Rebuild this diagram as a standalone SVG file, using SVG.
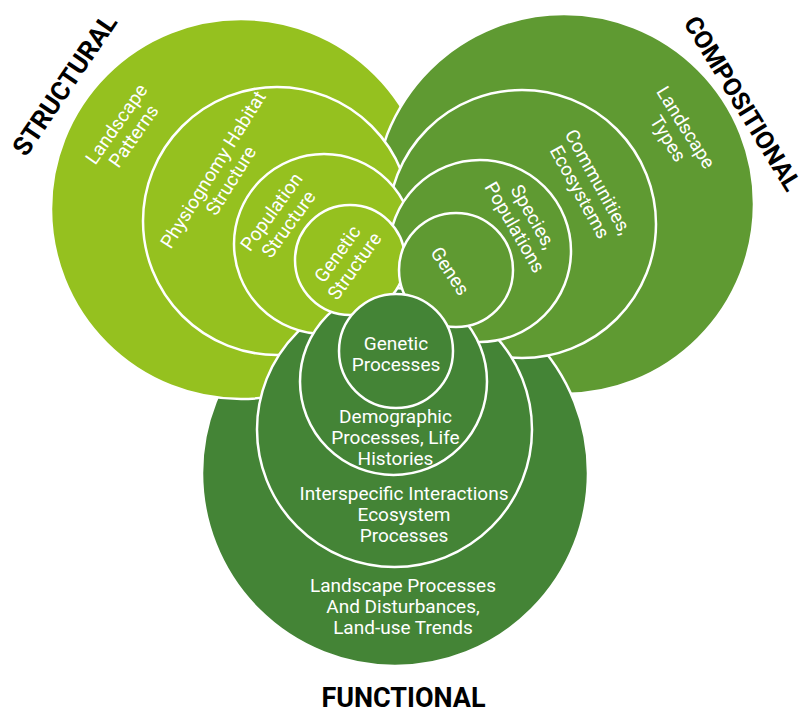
<svg xmlns="http://www.w3.org/2000/svg" width="808" height="713" viewBox="0 0 808 713">
<style>
.c{stroke:#fff;stroke-width:2.5}
.s{fill:#95c11f}
.p{fill:#5f9a32}
.f{fill:#448436}
.l{font-family:Roboto,"Liberation Sans",sans-serif;font-size:19px;fill:#fff;text-anchor:middle}
.t{font-family:Roboto,"Liberation Sans",sans-serif;font-weight:700;font-size:26px;fill:#000;text-anchor:middle}
</style>
<defs>
<circle id="compCircle" cx="564" cy="204" r="190"/>
<clipPath id="lens"><rect x="360" y="0" width="90" height="265"/></clipPath>
</defs>
<rect width="808" height="713" fill="#fff"/>

<!-- level 1 -->
<g id="compositional">
<use href="#compCircle" class="c p"/>
<g transform="translate(677,133) rotate(58)"><text class="l" y="-4">Landscape</text><text class="l" y="17">Types</text></g>
</g>
<g id="functional">
<circle class="c f" cx="395" cy="473" r="193"/>
</g>
<g id="structural">
<circle class="c s" cx="241" cy="209" r="190"/>
<g transform="translate(125,130) rotate(-55)"><text class="l" y="-4">Landscape</text><text class="l" y="17">Patterns</text></g>
</g>
<g id="compositional-overlap">
<use href="#compCircle" class="c p" clip-path="url(#lens)"/>
</g>

<!-- level 2 -->
<g id="physiognomy">
<circle class="c s" cx="277" cy="221" r="134"/>
<g transform="translate(222,175) rotate(-58)"><text class="l" y="-4">Physiognomy Habitat</text><text class="l" y="17">Structure</text></g>
</g>
<g id="communities">
<circle class="c p" cx="522" cy="224" r="134"/>
<g transform="translate(589,187) rotate(61)"><text class="l" y="-4">Communities,</text><text class="l" y="17">Ecosystems</text></g>
</g>
<g id="interspecific">
<circle class="c f" cx="394.5" cy="429.5" r="137.5"/>
<text class="l" x="404" y="500">Interspecific Interactions</text>
<text class="l" x="404" y="521">Ecosystem</text>
<text class="l" x="404" y="542">Processes</text>
</g>

<!-- level 3 -->
<g id="population">
<circle class="c s" cx="324" cy="244" r="90"/>
<g transform="translate(280,218) rotate(-54)"><text class="l" y="-4">Population</text><text class="l" y="17">Structure</text></g>
</g>
<g id="species">
<circle class="c p" cx="480" cy="251" r="91"/>
<g transform="translate(524,222) rotate(60)"><text class="l" y="-4">Species,</text><text class="l" y="17">Populations</text></g>
</g>
<g id="demographic">
<circle class="c f" cx="393.5" cy="381.5" r="93.5"/>
<text class="l" x="395.5" y="423">Demographic</text>
<text class="l" x="395.5" y="444">Processes, Life</text>
<text class="l" x="395.5" y="465">Histories</text>
</g>

<!-- level 4 -->
<g id="genetic-structure">
<circle class="c s" cx="350" cy="260" r="55"/>
<g transform="translate(346,260) rotate(-54.5)"><text class="l" y="-4">Genetic</text><text class="l" y="17">Structure</text></g>
</g>
<g id="genes">
<circle class="c p" cx="456" cy="270" r="57"/>
<g transform="translate(450,271) rotate(56)"><text class="l" y="6.5">Genes</text></g>
</g>
<g id="genetic-processes">
<circle class="c f" cx="396" cy="351" r="57"/>
<text class="l" x="396" y="350">Genetic</text>
<text class="l" x="396" y="371">Processes</text>
</g>

<!-- landscape processes label (functional outer) -->
<g id="functional-label">
<text class="l" x="403" y="592">Landscape Processes</text>
<text class="l" x="403" y="613">And Disturbances,</text>
<text class="l" x="403" y="634">Land-use Trends</text>
</g>

<g id="connectors"/>

<g id="titles">
<text class="t" transform="translate(72,90) rotate(-55.8)">STRUCTURAL</text>
<text class="t" transform="translate(735,108) rotate(58.6)" style="font-size:25px">COMPOSITIONAL</text>
<text class="t" x="403.5" y="707" style="font-size:27px">FUNCTIONAL</text>
</g>
</svg>
